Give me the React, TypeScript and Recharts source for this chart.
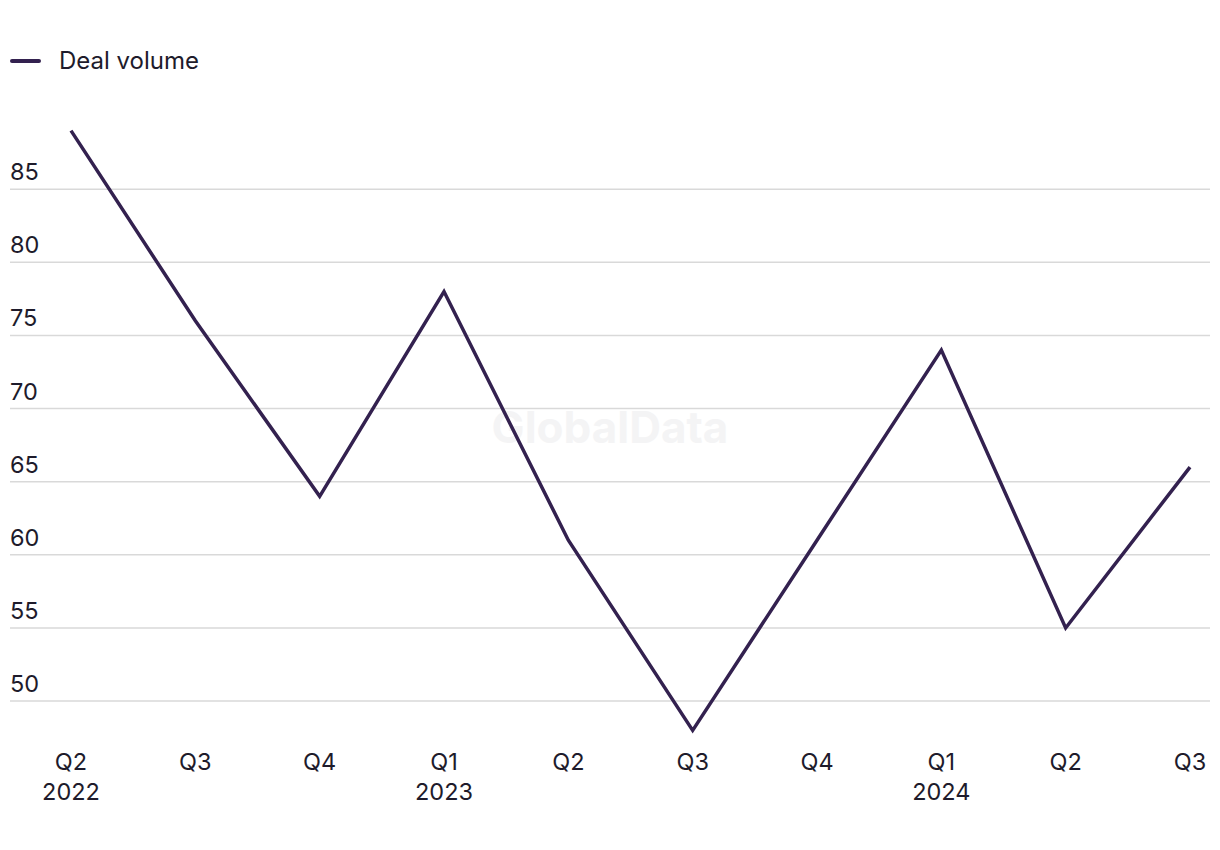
import React from 'react';
import { LineChart, Line, XAxis, YAxis, ReferenceLine } from 'recharts';

const quarters = ['Q2', 'Q3', 'Q4', 'Q1', 'Q2', 'Q3', 'Q4', 'Q1', 'Q2', 'Q3'];
const years = ['2022', '', '', '2023', '', '', '', '2024', '', ''];
const dealVolume = [89, 76, 64, 78, 61, 48, 61, 74, 55, 66];
const yTicks = [50, 55, 60, 65, 70, 75, 80, 85];

const data = quarters.map((q, i) => ({ key: `${q}-${i}`, value: dealVolume[i] }));

const FONT = 'Inter, "Liberation Sans", Arial, sans-serif';
const TEXT = '#1e1b2b';
const LINE = '#33214f';

function QuarterTick(props: any) {
  const { x, y, payload } = props;
  const i = payload.index;
  return (
    <g>
      <text x={x} y={y + 17} textAnchor="middle" fill={TEXT} fontSize={23.5} fontFamily={FONT}>
        {quarters[i]}
      </text>
      {years[i] && (
        <text x={x} y={y + 47} textAnchor="middle" fill={TEXT} fontSize={23.5} fontFamily={FONT}>
          {years[i]}
        </text>
      )}
    </g>
  );
}

function ValueTick(props: any) {
  const { y, payload } = props;
  return (
    <text x={10} y={y - 9} textAnchor="start" fill={TEXT} fontSize={23.5} fontFamily={FONT}>
      {payload.value}
    </text>
  );
}

export default function App() {
  return (
    <div style={{ position: 'fixed', left: 0, top: 0, width: 1220, height: 850, background: '#fff' }}>
      <div
        style={{
          position: 'absolute', left: 0, top: 400, width: 1220, textAlign: 'center',
          fontFamily: FONT, fontWeight: 700, fontSize: 44, color: '#f4f4f5',
        }}
      >
        GlobalData
      </div>
      <div style={{ position: 'absolute', left: 10, top: 46, display: 'flex', alignItems: 'center', fontFamily: FONT, fontSize: 24, color: TEXT }}>
        <span style={{ display: 'inline-block', width: 31, height: 4, background: LINE, borderRadius: 2, marginRight: 18 }} />
        Deal volume
      </div>
      <div style={{ position: 'absolute', left: 0, top: 0 }}>
        <LineChart width={1220} height={850} data={data} margin={{ top: 116, right: 10, bottom: 45, left: 9 }}>
          <XAxis
            dataKey="key"
            axisLine={false}
            tickLine={false}
            height={60}
            interval={0}
            padding={{ left: 61, right: 20 }}
            tick={<QuarterTick />}
          />
          <YAxis
            width={1}
            domain={[47, 90]}
            ticks={yTicks}
            interval={0}
            axisLine={false}
            tickLine={false}
            tick={<ValueTick />}
          />
          {yTicks.map((t) => (
            <ReferenceLine key={t} y={t} stroke="#d9d9d9" strokeWidth={1.5} />
          ))}
          <Line
            type="linear"
            dataKey="value"
            stroke={LINE}
            strokeWidth={3.5}
            dot={false}
            activeDot={false}
            isAnimationActive={false}
          />
        </LineChart>
      </div>
    </div>
  );
}
